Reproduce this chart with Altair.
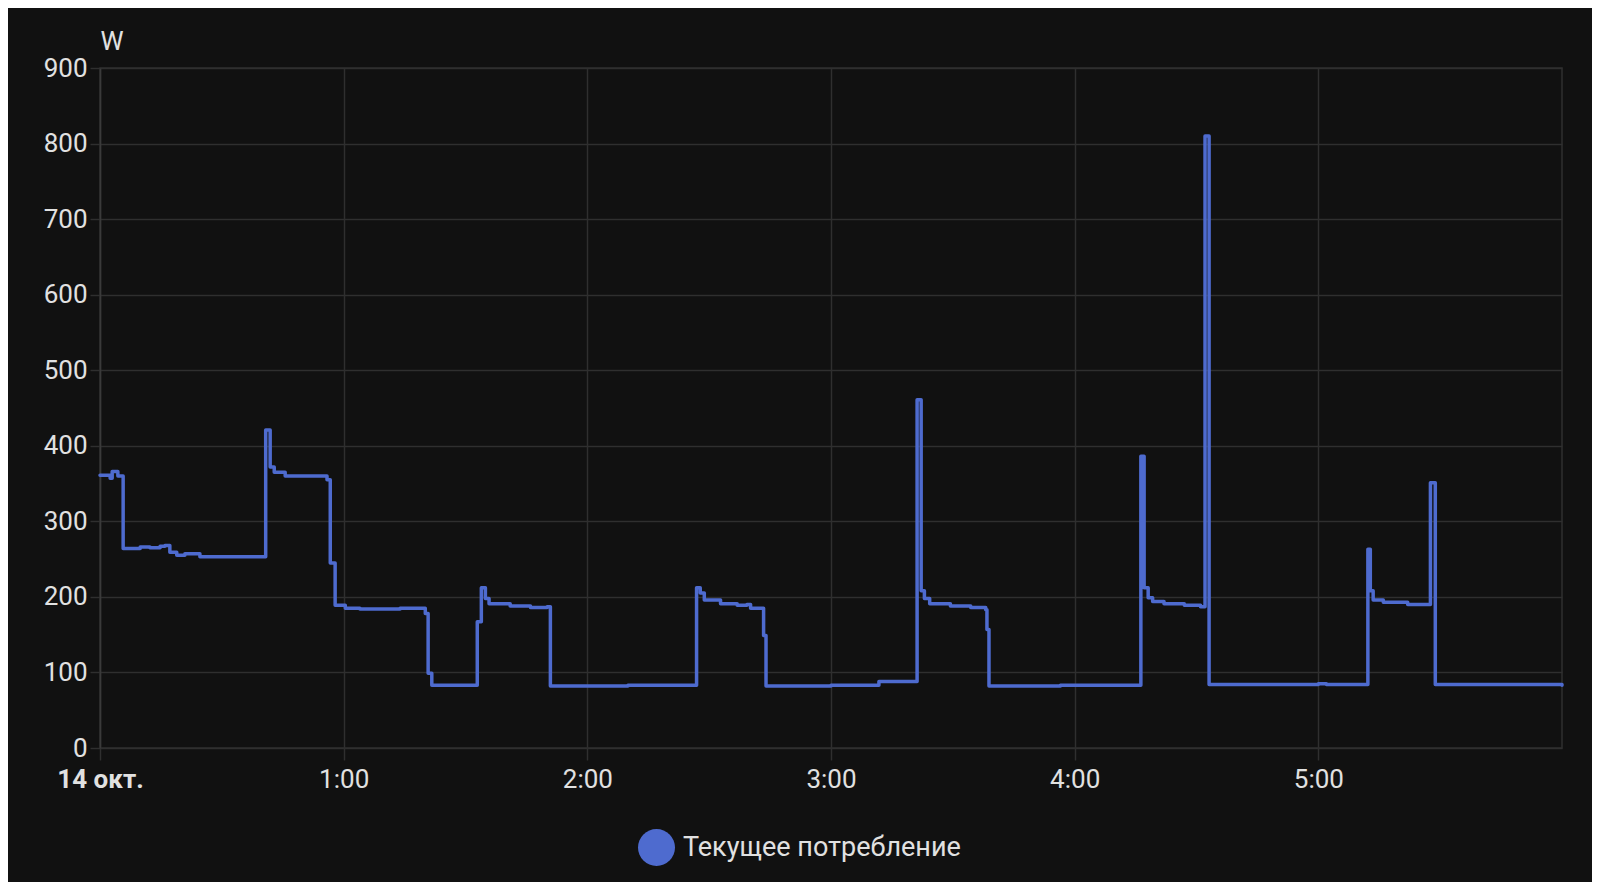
import altair as alt
import pandas as pd

# Minutes after 00:00 on 14 Oct, and power in W (step-after series)
minutes = [0.0, 2.5, 3.0, 4.4, 5.7, 9.9, 12.3, 14.8, 16.0, 17.2, 18.9, 20.9, 24.6,
           40.8, 41.9, 42.9, 45.6, 55.9, 56.7, 57.9, 60.4, 64.0, 73.9, 80.1, 80.8, 81.7,
           92.9, 93.9, 94.9, 95.8, 101.0, 106.0, 110.1, 110.9, 130.0,
           146.9, 147.8, 148.8, 152.8, 156.9, 159.3, 160.2, 163.4, 164.0, 180.0,
           191.8, 201.2, 202.2, 203.0, 204.3, 209.4, 214.4, 218.1, 218.4, 218.9, 236.5,
           256.3, 257.1, 258.1, 259.2, 262.0, 267.0, 271.0, 272.1, 273.1, 300.0, 302.0,
           312.2, 312.8, 313.5, 316.0, 322.0, 327.6, 328.8, 360.0]
watts = [361, 357, 366, 360, 264, 266, 265, 267, 268, 259, 255, 257, 253,
         421, 372, 365, 360, 355, 245, 189, 185, 184, 185, 178, 99, 83,
         167, 212, 198, 191, 188, 186, 187, 82, 83,
         212, 205, 196, 191, 189, 190, 185, 149, 82, 83,
         88, 461, 208, 198, 191, 188, 186, 183, 157, 82, 83,
         386, 212, 199, 194, 191, 189, 187, 810, 84, 85, 84,
         263, 208, 196, 193, 190, 351, 84, 83]
series_name = "Текущее потребление"
tick_hours = [0, 1, 2, 3, 4, 5]
y_ticks = [0, 100, 200, 300, 400, 500, 600, 700, 800, 900]

base = pd.Timestamp("2023-10-14T00:00:00")
df = pd.DataFrame({
    "time": [(base + pd.Timedelta(minutes=m)).strftime("%Y-%m-%dT%H:%M:%S") for m in minutes],
    "value": watts,
    "series": [series_name] * len(minutes),
})

LINE = "#4e6bcf"
GRID = "#2f2f2f"
TEXT = "#e1e1e1"
FONT = "Roboto"

x_vals = [alt.DateTime(year=2023, month=10, date=14, hours=h) for h in tick_hours]

chart = alt.Chart(df).mark_line(
    interpolate="step-after", strokeWidth=3.5, strokeJoin="round", strokeCap="round"
).encode(
    x=alt.X("time:T",
            scale=alt.Scale(domain=[alt.DateTime(year=2023, month=10, date=14, hours=0),
                                    alt.DateTime(year=2023, month=10, date=14, hours=6)]),
            axis=alt.Axis(
                values=x_vals,
                labelExpr="hours(datum.value) == 0 ? '14 окт.' : hours(datum.value) + ':00'",
                labelFontWeight={"condition": {"test": "hours(datum.value) == 0", "value": "bold"},
                                 "value": "normal"},
                title=None, grid=True, gridColor=GRID, gridWidth=1.5,
                tickColor=GRID, tickSize=12, tickWidth=1.5, domain=False,
                labelFontSize=26, labelColor=TEXT, labelFont=FONT, labelPadding=6,
                labelFlush=False)),
    y=alt.Y("value:Q",
            scale=alt.Scale(domain=[0, 900], nice=False),
            axis=alt.Axis(
                values=y_ticks, title="W", titleAngle=0, titleX=0, titleY=-14,
                titleAlign="left", titleBaseline="bottom", titleFontSize=26,
                titleFontWeight="normal", titleColor=TEXT, titleFont=FONT,
                grid=True, gridColor=GRID, gridWidth=1.5,
                tickColor=GRID, tickSize=10, tickWidth=1.5,
                domain=True, domainColor="#3a3a3a", domainWidth=1.5,
                labelFontSize=26, labelColor=TEXT, labelFont=FONT, labelPadding=3,
                labelBaseline="middle")),
    stroke=alt.Stroke("series:N",
                      scale=alt.Scale(domain=[series_name], range=[LINE]),
                      legend=alt.Legend(
                          title=None, orient="none", legendX=538, legendY=80 + 680 + 1,
                          symbolType="circle", symbolSize=1369,
                          symbolFillColor=LINE, symbolStrokeColor=LINE,
                          symbolStrokeWidth=0, symbolOpacity=1,
                          labelFontSize=27, labelColor=TEXT, labelFont=FONT,
                          labelOffset=8, labelLimit=0, padding=0)),
).properties(
    width=1462, height=680,
    background="#111111",
    padding={"left": 92, "top": 60, "right": 30, "bottom": 134},
    autosize=alt.AutoSizeParams(type="none"),
).configure_view(
    stroke=GRID, strokeWidth=1.5
)

chart.save("out.html", embed_options={"renderer": "svg", "actions": False})
